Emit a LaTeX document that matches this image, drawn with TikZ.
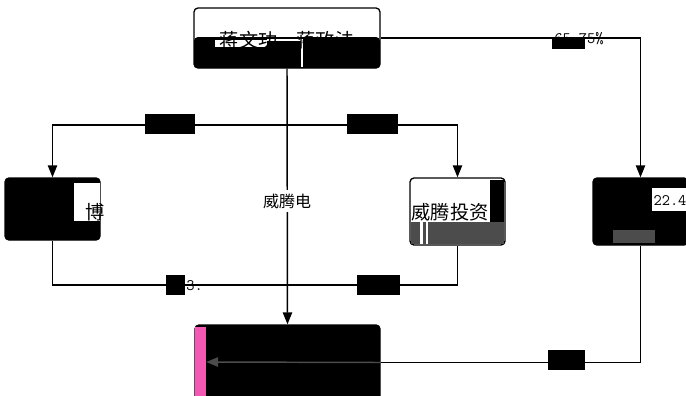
\documentclass[tikz,border=0pt]{standalone}
\usepackage{fontspec}
\setmainfont{Noto Sans CJK SC}
\usetikzlibrary{arrows.meta}

\begin{document}
\begin{tikzpicture}[x=0.75pt,y=0.75pt,yscale=-1,xscale=1,
  entity/.style={draw, line width=1pt, rounded corners=3pt, inner sep=0pt},
  pct/.style={fill=black, inner sep=0pt, minimum height=15pt},
  link/.style={line width=1.1pt, -{Triangle[length=9pt,width=7pt]}},
  plain/.style={line width=1.1pt}]
\path[use as bounding box] (0,0) rectangle (686,396);

%Shape: top holders
\node[entity, fill=white, minimum width=139.5pt, minimum height=45pt] (holders) at (287,38) {};
\fill[black, rounded corners=3pt] (194,37) rectangle (380,68);
\fill[white] (215,40) rectangle (267,47);
\draw[white, line width=1pt] (267,40) -- (302,40) -- (302,67);
% Text Node
\draw (287,40) node [inner sep=0.75pt, font=\Large] {蒋文功、蒋政法};

%Shape: left holder
\node[entity, fill=black, minimum width=71.25pt, minimum height=46.5pt] (boshuo) at (52.5,209) {};
\fill[white] (74,183) rectangle (100,221);
% Text Node
\draw (95,212) node [inner sep=0.75pt, font=\Large] {博};

%Shape: middle holder
\node[entity, fill=white, minimum width=71.25pt, minimum height=50.25pt] (wtinvest) at (457.5,211.5) {};
\fill[black] (490,180) rectangle (504,230);
\fill[black!70] (411,222) rectangle (504,244);
\fill[white] (420,222) rectangle (423,244);
\fill[white] (426,222) rectangle (428,244);
% Text Node
\draw (450,212) node [inner sep=0.75pt, font=\Large] {威腾投资};

%Shape: right holder
\node[entity, fill=black, minimum width=71.25pt, minimum height=50.25pt] (partner) at (640.5,211.5) {};
\fill[white] (652,188) rectangle (686,211);
\fill[black!70] (613,230) rectangle (655,243);
% Text Node
\draw (670,200) node [inner sep=0.75pt, font=\ttfamily\large] {22.4};

%Shape: company
\node[entity, fill=black, minimum width=138.75pt, minimum height=56.25pt] (wtelec) at (287.5,362.5) {};
\node[fill=magenta!65, inner sep=0pt, minimum width=8pt, minimum height=52pt] (stripe) at (200.5,362) {};

% connectors
\coordinate (split) at (287,125);
\coordinate (merge) at (287,285);
\draw[link] (holders.east) -| (partner.north);
\draw[link] (holders.south) -- (wtelec.north);
\draw[link] (split) -| (boshuo.north);
\draw[link] (split) -| (wtinvest.north);
\draw[plain] (boshuo.south) |- (merge);
\draw[plain] (wtinvest.south) |- (merge);
\draw[plain] (partner.south) |- (wtelec.east);
\draw[link, draw=black!70, fill=black!70] (wtelec.east) -- (stripe.east);

% label boxes
\node[pct, minimum width=37.5pt] (pctA) at (170,124) {};
\node[pct, minimum width=38.25pt] (pctB) at (372.5,124) {};
\node[pct, minimum width=14.25pt] (pctC) at (175.5,285) {};
\node[pct, minimum width=32.25pt] (pctD) at (378.5,285) {};
\node[pct, minimum width=27.75pt] (pctE) at (566.5,360) {};
\node[pct, minimum width=24.75pt, minimum height=9pt] (pctF) at (568.5,43) {};
% Text Node
\draw (185,286) node [anchor=west, inner sep=0.75pt, font=\ttfamily\large] {3.};
% Text Node
\draw (579,39) node [inner sep=0.75pt, font=\ttfamily\large] {65.75\%};
% Text Node
\draw (287,201) node [fill=white, inner sep=3pt, font=\large] {威腾电};

\end{tikzpicture}
\end{document}
